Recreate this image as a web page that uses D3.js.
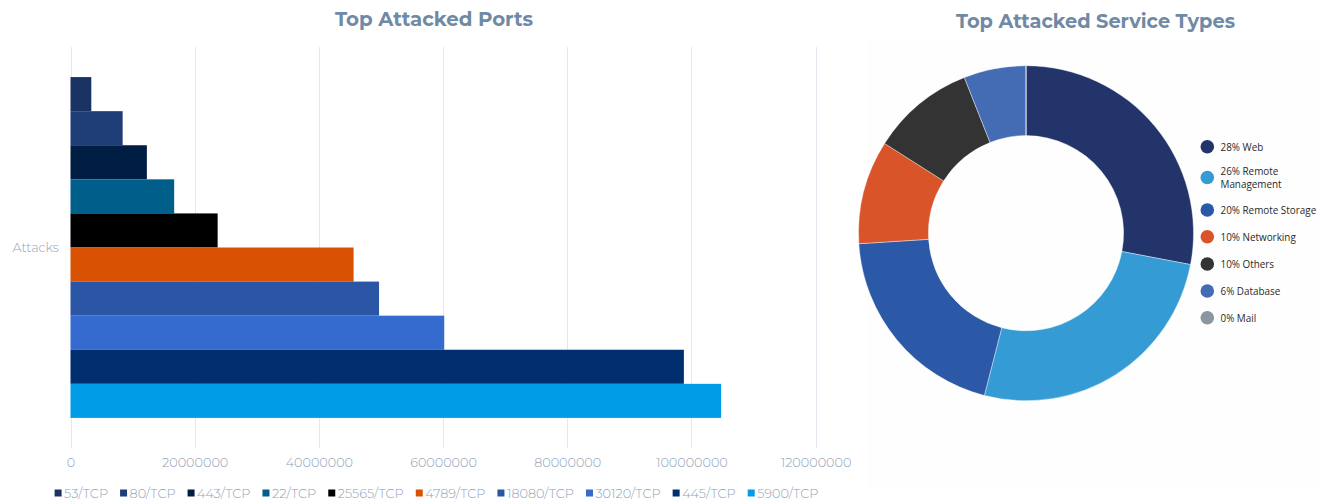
<!DOCTYPE html>
<html>
<head>
<meta charset="utf-8">
<script src="https://cdn.jsdelivr.net/npm/d3@7"></script>
<style>
  html, body { margin: 0; padding: 0; background: #ffffff; }
  svg { display: block; }
</style>
</head>
<body>
<svg id="chart" width="1327" height="502"></svg>
<script>
// Top attacked ports (attack counts)
const ports = ["53/TCP", "80/TCP", "443/TCP", "22/TCP", "25565/TCP", "4789/TCP", "18080/TCP", "30120/TCP", "445/TCP", "5900/TCP"];
const portAttacks = [3350000, 8400000, 12300000, 16700000, 23700000, 45600000, 49700000, 60200000, 98800000, 104800000];
const portColors = ["#1a3264", "#1f3e78", "#001d44", "#005e8b", "#000000", "#d95204", "#2b55a5", "#356ace", "#002e6e", "#009ce8"];
const xTicks = [0, 20000000, 40000000, 60000000, 80000000, 100000000, 120000000];
const barCategory = "Attacks";

// Top attacked service types (share in %)
const services = ["Web", "Remote Management", "Remote Storage", "Networking", "Others", "Database", "Mail"];
const serviceShares = [28, 26, 20, 10, 10, 6, 0];
const serviceColors = ["#22346a", "#359bd5", "#2c58a8", "#d95429", "#333333", "#436cb4", "#8b96a0"];
const serviceLegend = [["28% Web"], ["26% Remote", "Management"], ["20% Remote Storage"], ["10% Networking"], ["10% Others"], ["6% Database"], ["0% Mail"]];

const svg = d3.select("#chart");
const titleColor = "#7089a5";
const labelColor = "#91a2b8";
const titleFont = "Montserrat, 'DejaVu Sans', sans-serif";
const bodyFont = "Montserrat, 'DejaVu Sans', sans-serif";

// scale a text element's font-size so that it spans the given width
function fitWidth(sel, width) {
  const fs = parseFloat(sel.attr("font-size"));
  const w = sel.node().getComputedTextLength();
  sel.attr("font-size", (fs * width / w).toFixed(2));
}

// ---------- Bar chart ----------
const x = d3.scaleLinear().domain([0, 120000000]).range([70.5, 815.5]);
const y = d3.scaleBand().domain([barCategory]).range([47, 448]);
// the bars of one category fill 85% of its band
const barBlock = y.bandwidth() * 0.85;
const barOffset = (y.bandwidth() - barBlock) / 2;
const inner = d3.scaleBand().domain(ports).range([barOffset, barOffset + barBlock]).padding(0);

const g = svg.append("g");

// vertical grid lines
g.append("g").selectAll("line").data(xTicks).join("line")
  .attr("x1", d => Math.round(x(d)) + 0.5).attr("x2", d => Math.round(x(d)) + 0.5)
  .attr("y1", 47).attr("y2", 448)
  .attr("stroke", "#e3e8ee").attr("stroke-width", 1);

// bars
g.append("g").selectAll("rect").data(ports).join("rect")
  .attr("x", x(0))
  .attr("y", d => y(barCategory) + inner(d))
  .attr("width", (d, i) => x(portAttacks[i]) - x(0))
  .attr("height", inner.bandwidth())
  .attr("fill", (d, i) => portColors[i]);

// x axis tick labels
const xAxis = d3.axisBottom(x).tickValues(xTicks).tickFormat(d3.format("d")).tickSize(0).tickPadding(0);
const ax = g.append("g").attr("transform", "translate(0,458)").call(xAxis);
ax.select(".domain").remove();
ax.selectAll("text")
  .attr("fill", labelColor)
  .attr("font-family", bodyFont)
  .attr("font-weight", 300)
  .attr("font-size", 12.8)
  .attr("dy", "0.71em");

// category label
g.append("text")
  .attr("x", 59).attr("y", y(barCategory) + y.bandwidth() / 2)
  .attr("text-anchor", "end").attr("dominant-baseline", "central")
  .attr("fill", labelColor).attr("font-family", bodyFont).attr("font-weight", 300)
  .attr("font-size", 12.8)
  .text(barCategory);

// title
const t1 = svg.append("text")
  .attr("x", 434).attr("y", 26).attr("text-anchor", "middle")
  .attr("fill", titleColor).attr("font-family", titleFont).attr("font-weight", 700)
  .attr("font-size", 19).text("Top Attacked Ports");
fitWidth(t1, 198);

// bottom legend
const leg = svg.append("g");
let cx = 0;
ports.forEach((p, i) => {
  const item = leg.append("g").attr("transform", `translate(${cx},0)`);
  item.append("rect").attr("x", 0).attr("y", -3.5).attr("width", 7).attr("height", 7).attr("fill", portColors[i]);
  const t = item.append("text").attr("x", 9.5).attr("y", 0).attr("dominant-baseline", "central")
    .attr("fill", labelColor).attr("font-family", bodyFont).attr("font-weight", 300)
    .attr("font-size", 12.8).text(p);
  cx += 9.5 + t.node().getComputedTextLength() + 12;
});
const legW = cx - 12;
leg.attr("transform", `translate(${(436.5 - legW / 2).toFixed(1)},493)`);

// ---------- Donut chart ----------
const dcx = 1026, dcy = 233.2, outerR = 167.5, innerR = 97.6;
svg.append("rect").attr("x", 868).attr("y", 40).attr("width", 450).attr("height", 450).attr("fill", "#fefefe");

const pie = d3.pie().sort(null).value(d => d)(serviceShares);
const arc = d3.arc().innerRadius(innerR).outerRadius(outerR);
svg.append("g").attr("transform", `translate(${dcx},${dcy})`)
  .selectAll("path").data(pie).join("path")
  .attr("d", arc)
  .attr("fill", (d, i) => serviceColors[i])
  .attr("stroke", "#ffffff").attr("stroke-width", 0.4);

// title
const t2 = svg.append("text")
  .attr("x", 1095.5).attr("y", 28.3).attr("text-anchor", "middle")
  .attr("fill", titleColor).attr("font-family", titleFont).attr("font-weight", 700)
  .attr("font-size", 19).text("Top Attacked Service Types");
fitWidth(t2, 279);

// side legend
const legendY = [146.7, 177.5, 210, 236.7, 264, 291, 317.7];
const sl = svg.append("g");
services.forEach((s, i) => {
  sl.append("circle").attr("cx", 1207.3).attr("cy", legendY[i]).attr("r", 6.8).attr("fill", serviceColors[i]);
  const lines = serviceLegend[i];
  const t = sl.append("text").attr("x", 1220.5)
    .attr("fill", "#2a2a2a").attr("font-family", "'Open Sans', 'Noto Sans', sans-serif")
    .attr("font-size", 9.9);
  lines.forEach((ln, k) => {
    t.append("tspan").attr("x", 1220.5)
      .attr("y", legendY[i] + (k - (lines.length - 1) / 2) * 12.6)
      .attr("dominant-baseline", "central")
      .text(ln);
  });
});
</script>
</body>
</html>
